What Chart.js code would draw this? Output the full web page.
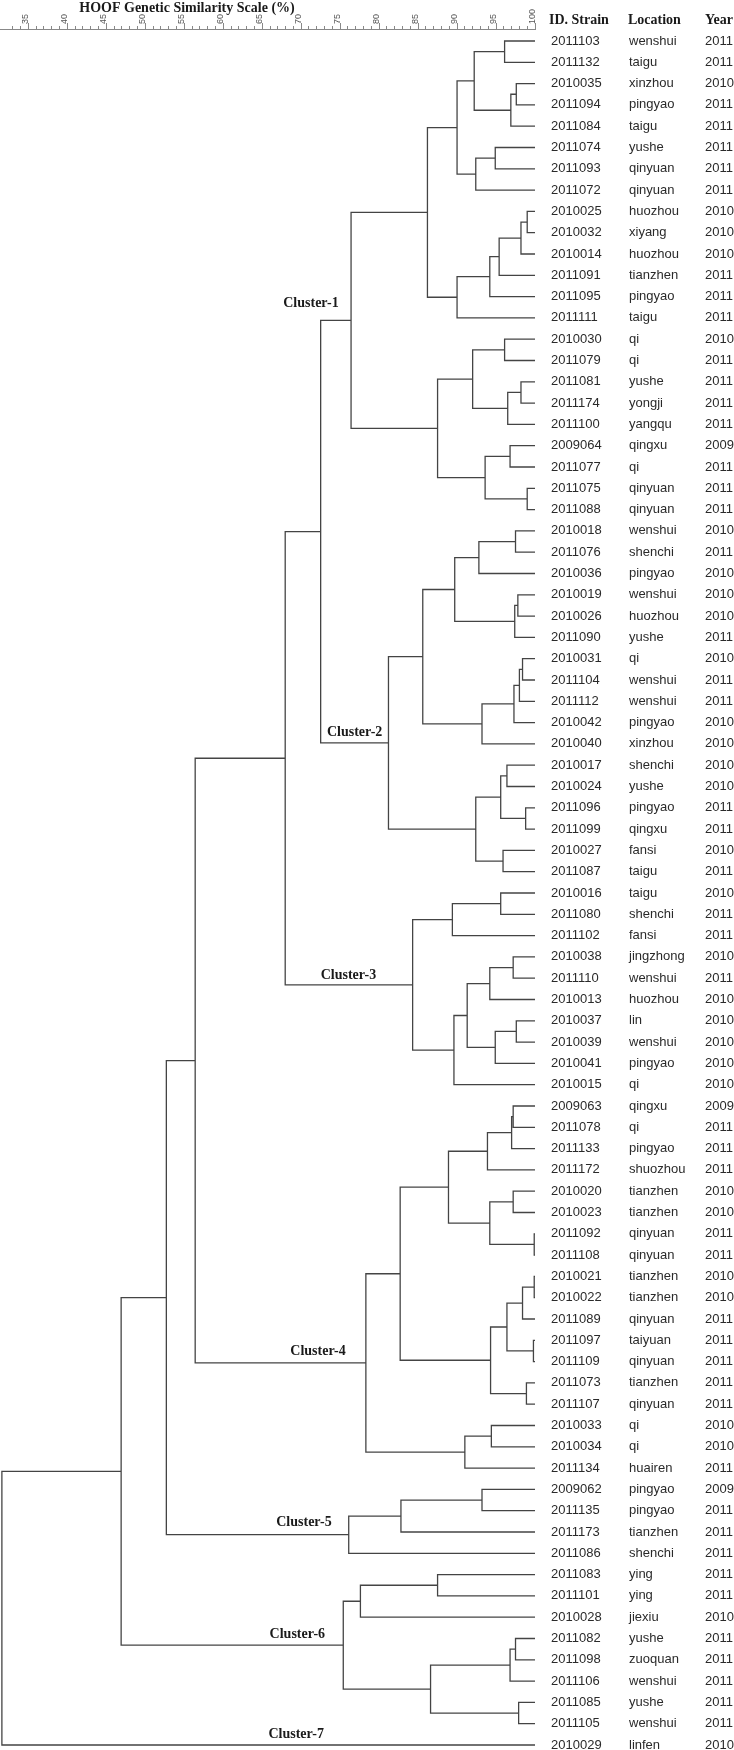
<!DOCTYPE html>
<html>
<head>
<meta charset="utf-8">
<style>
  html, body { margin: 0; padding: 0; background: #fff; }
  #wrap { width: 734px; height: 1750px; }
</style>
<script src="https://cdn.jsdelivr.net/npm/chart.js@4"></script>
</head>
<body>
<div id="wrap"><canvas id="dendro"></canvas></div>
<script>
var strainIds = ['2011103', '2011132', '2010035', '2011094', '2011084', '2011074', '2011093', '2011072',
  '2010025', '2010032', '2010014', '2011091', '2011095', '2011111', '2010030', '2011079', '2011081',
  '2011174', '2011100', '2009064', '2011077', '2011075', '2011088', '2010018', '2011076', '2010036',
  '2010019', '2010026', '2011090', '2010031', '2011104', '2011112', '2010042', '2010040', '2010017',
  '2010024', '2011096', '2011099', '2010027', '2011087', '2010016', '2011080', '2011102', '2010038',
  '2011110', '2010013', '2010037', '2010039', '2010041', '2010015', '2009063', '2011078', '2011133',
  '2011172', '2010020', '2010023', '2011092', '2011108', '2010021', '2010022', '2011089', '2011097',
  '2011109', '2011073', '2011107', '2010033', '2010034', '2011134', '2009062', '2011135', '2011173',
  '2011086', '2011083', '2011101', '2010028', '2011082', '2011098', '2011106', '2011085', '2011105',
  '2010029'];
var locations = ['wenshui', 'taigu', 'xinzhou', 'pingyao', 'taigu', 'yushe', 'qinyuan', 'qinyuan',
  'huozhou', 'xiyang', 'huozhou', 'tianzhen', 'pingyao', 'taigu', 'qi', 'qi', 'yushe',
  'yongji', 'yangqu', 'qingxu', 'qi', 'qinyuan', 'qinyuan', 'wenshui', 'shenchi', 'pingyao',
  'wenshui', 'huozhou', 'yushe', 'qi', 'wenshui', 'wenshui', 'pingyao', 'xinzhou', 'shenchi',
  'yushe', 'pingyao', 'qingxu', 'fansi', 'taigu', 'taigu', 'shenchi', 'fansi', 'jingzhong',
  'wenshui', 'huozhou', 'lin', 'wenshui', 'pingyao', 'qi', 'qingxu', 'qi', 'pingyao',
  'shuozhou', 'tianzhen', 'tianzhen', 'qinyuan', 'qinyuan', 'tianzhen', 'tianzhen', 'qinyuan', 'taiyuan',
  'qinyuan', 'tianzhen', 'qinyuan', 'qi', 'qi', 'huairen', 'pingyao', 'pingyao', 'tianzhen',
  'shenchi', 'ying', 'ying', 'jiexiu', 'yushe', 'zuoquan', 'wenshui', 'yushe', 'wenshui',
  'linfen'];
var years = ['2011', '2011', '2010', '2011', '2011', '2011', '2011', '2011',
  '2010', '2010', '2010', '2011', '2011', '2011', '2010', '2011', '2011',
  '2011', '2011', '2009', '2011', '2011', '2011', '2010', '2011', '2010',
  '2010', '2010', '2011', '2010', '2011', '2011', '2010', '2010', '2010',
  '2010', '2011', '2011', '2010', '2011', '2010', '2011', '2011', '2010',
  '2011', '2010', '2010', '2010', '2010', '2010', '2009', '2011', '2011',
  '2011', '2010', '2010', '2011', '2011', '2010', '2010', '2011', '2011',
  '2011', '2011', '2011', '2010', '2010', '2011', '2009', '2011', '2011',
  '2011', '2011', '2011', '2010', '2011', '2011', '2011', '2011', '2011',
  '2010'];

// merges: [childA, childB, similarity %]; index < 81 is a strain, >= 81 is an earlier merge (81 = first row)
var merges = [
  [0, 1, 96.1], [2, 3, 97.6], [82, 4, 96.9], [81, 83, 92.2], [5, 6, 94.9], [85, 7, 92.4], [84, 86, 90.0],
  [8, 9, 99.0], [88, 10, 98.2], [89, 11, 95.4], [90, 12, 94.2], [91, 13, 90.0], [87, 92, 86.2],
  [14, 15, 96.1], [16, 17, 98.2], [95, 18, 96.5], [94, 96, 92.0], [19, 20, 96.8], [21, 22, 99.0],
  [98, 99, 93.6], [97, 100, 87.5], [93, 101, 76.4],
  [23, 24, 97.5], [103, 25, 92.8], [26, 27, 97.8], [105, 28, 97.4], [104, 106, 89.7],
  [29, 30, 98.4], [108, 31, 98.0], [109, 32, 97.3], [110, 33, 93.2], [107, 111, 85.6],
  [34, 35, 96.4], [36, 37, 98.8], [113, 114, 95.6], [38, 39, 95.9], [115, 116, 92.4], [112, 117, 81.2],
  [102, 118, 72.5],
  [40, 41, 95.6], [120, 42, 89.4], [43, 44, 97.2], [122, 45, 94.2], [46, 47, 97.6], [124, 48, 94.9],
  [123, 125, 91.3], [126, 49, 89.6], [121, 127, 84.3],
  [119, 128, 67.95],
  [50, 51, 97.2], [130, 52, 97.0], [131, 53, 93.9], [54, 55, 97.2], [56, 57, 99.9], [133, 134, 94.2],
  [132, 135, 88.9], [58, 59, 99.9], [137, 60, 98.4], [61, 62, 99.8], [138, 139, 96.4], [63, 64, 98.9],
  [140, 141, 94.3], [136, 142, 82.7], [65, 66, 94.4], [144, 67, 91.0], [143, 145, 78.3],
  [129, 146, 56.4],
  [68, 69, 93.2], [148, 70, 82.8], [149, 71, 76.1],
  [147, 150, 52.7],
  [72, 73, 87.5], [152, 74, 77.6], [75, 76, 97.5], [154, 77, 96.8], [78, 79, 97.9], [155, 156, 86.6],
  [153, 157, 75.4],
  [151, 158, 46.9],
  [159, 80, 31.6]
];

var clusterNames = ['Cluster-1', 'Cluster-2', 'Cluster-3', 'Cluster-4', 'Cluster-5', 'Cluster-6', 'Cluster-7'];
var scaleLabels = [35, 40, 45, 50, 55, 60, 65, 70, 75, 80, 85, 90, 95, 100];
var columnHeads = ['ID. Strain', 'Location', 'Year'];

// turn the merge table into one broken polyline ("]" shape per merge)
function dendroPoints() {
  var nodes = [];
  for (var i = 0; i < strainIds.length; i++) nodes.push({ h: 100, y: i });
  var pts = [];
  merges.forEach(function (m) {
    var a = nodes[m[0]], b = nodes[m[1]], h = m[2];
    pts.push({ x: a.h, y: a.y }, { x: h, y: a.y }, { x: h, y: b.y }, { x: b.h, y: b.y }, { x: h, y: null });
    nodes.push({ h: h, y: (a.y + b.y) / 2 });
  });
  return pts;
}

// where the cluster names sit, in axis units (similarity, row)
var clusterSpots = [[67.7, 12.3], [73.3, 32.45], [72.5, 43.85], [68.6, 61.5], [66.8, 69.55], [65.95, 74.8], [65.8, 79.5]];

var textPlugin = {
  id: 'dendroText',
  afterDraw: function (chart) {
    var ctx = chart.ctx, xs = chart.scales.x, ys = chart.scales.y;
    ctx.save();
    ctx.textBaseline = 'middle';

    // minor ticks come from the axis; make the 5% ones a bit longer
    ctx.strokeStyle = '#888';
    ctx.lineWidth = 1;
    scaleLabels.forEach(function (v) {
      var px = Math.round(xs.getPixelForValue(v)) + 0.5;
      ctx.beginPath();
      ctx.moveTo(px, xs.bottom);
      ctx.lineTo(px, xs.bottom - 6);
      ctx.stroke();
    });

    ctx.fillStyle = '#1a1a1a';
    ctx.font = 'bold 14px "Liberation Serif"';
    ctx.textAlign = 'center';
    ctx.fillText('HOOF Genetic Similarity Scale (%)', 187, 8);

    ctx.textAlign = 'left';
    ctx.font = 'bold 14px "Liberation Serif"';
    var colX = [549, 628, 705];
    columnHeads.forEach(function (t, i) { ctx.fillText(t, colX[i], 20); });

    ctx.fillStyle = '#2a2a2a';
    ctx.font = '13px "Liberation Sans"';
    strainIds.forEach(function (id, i) {
      var py = ys.getPixelForValue(i);
      ctx.fillText(id, colX[0] + 2, py);
      ctx.fillText(locations[i], colX[1] + 1, py);
      ctx.fillText(years[i], colX[2], py);
    });

    ctx.fillStyle = '#1a1a1a';
    ctx.font = 'bold 14px "Liberation Serif"';
    clusterNames.forEach(function (name, i) {
      ctx.fillText(name, xs.getPixelForValue(clusterSpots[i][0]), ys.getPixelForValue(clusterSpots[i][1]));
    });
    ctx.restore();
  }
};

new Chart(document.getElementById('dendro'), {
  type: 'scatter',
  data: {
    datasets: [{
      data: dendroPoints(),
      showLine: true,
      spanGaps: false,
      borderColor: '#444',
      borderWidth: 1.3,
      pointRadius: 0,
      pointHoverRadius: 0,
      tension: 0
    }]
  },
  options: {
    responsive: true,
    maintainAspectRatio: false,
    animation: false,
    events: [],
    layout: { padding: { left: 0, right: 199, top: 0, bottom: 0 } },
    plugins: { legend: { display: false }, tooltip: { enabled: false } },
    scales: {
      x: {
        type: 'linear',
        position: 'top',
        min: 100 - 535 / 7.8,
        max: 100,
        afterFit: function (scale) { scale.height = 29; },
        afterBuildTicks: function (scale) {
          scale.ticks = scale.ticks.filter(function (t) { return Math.abs(t.value - Math.round(t.value)) < 1e-6; });
        },
        grid: { drawOnChartArea: false, tickLength: 3, tickColor: '#888' },
        border: { display: true, color: '#888', width: 1 },
        ticks: {
          stepSize: 1,
          autoSkip: false,
          minRotation: 90,
          maxRotation: 90,
          padding: 2,
          labelOffset: 8,
          color: '#555',
          font: { family: 'Liberation Sans', size: 9 },
          callback: function (v) { return scaleLabels.indexOf(Math.round(v)) >= 0 ? String(Math.round(v)) : ''; }
        }
      },
      y: {
        type: 'linear',
        display: false,
        reverse: true,
        min: -12 / 21.3,
        max: 80 + 5 / 21.3
      }
    }
  },
  plugins: [textPlugin]
});
</script>
</body>
</html>
